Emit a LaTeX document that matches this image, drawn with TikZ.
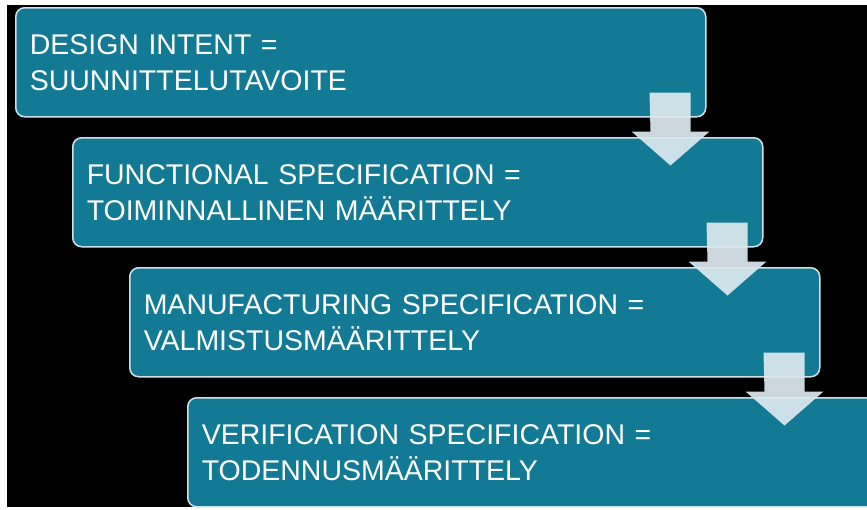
\documentclass[tikz,border=0pt]{standalone}
\usepackage{fontspec}
\setmainfont{Liberation Sans}
\usetikzlibrary{positioning,calc}

\definecolor{stepteal}{HTML}{137A95}
\definecolor{steprim}{HTML}{CFE2EA}
\definecolor{arrowgrey}{HTML}{DCE8EE}

\begin{document}
\begin{tikzpicture}[x=1pt,y=-1pt]
\tikzset{ >=latex,
  stepbox/.style={draw=steprim, line width=1.5pt, fill=stepteal, rounded corners=9pt,
    anchor=north west, text width=662pt, minimum height=109pt, align=left,
    inner xsep=14pt, text=white, font=\fontsize{28.5}{36}\selectfont},
  downarrow/.style={fill=arrowgrey, fill opacity=0.93},
}

\useasboundingbox (0,0) rectangle (867,509);
\clip (0,0) rectangle (867,509);

\fill [white] (0,0) rectangle (867,509);
\fill [black] (7,5) rectangle (867,507);

%\draw [lightgray, dashed](0,0) grid[step=50] (867,509);

\node [stepbox] (D) at (15,7)    {DESIGN INTENT =\\SUUNNITTELUTAVOITE};
\node [stepbox] (F) at (72,137)  {FUNCTIONAL SPECIFICATION =\\TOIMINNALLINEN MÄÄRITTELY};
\node [stepbox] (M) at (129,267) {MANUFACTURING SPECIFICATION =\\VALMISTUSMÄÄRITTELY};
\node [stepbox] (V) at (187,397) {VERIFICATION SPECIFICATION =\\TODENNUSMÄÄRITTELY};

\fill [downarrow] ($(D.south east)+(-57,-25)$) -- ++(41,0) -- ++(0,39) -- ++(19,0)
  -- ++(-39,34) -- ++(-39,-34) -- ++(19,0) -- cycle;
\fill [downarrow] ($(F.south east)+(-57,-25)$) -- ++(41,0) -- ++(0,39) -- ++(19,0)
  -- ++(-39,34) -- ++(-39,-34) -- ++(19,0) -- cycle;
\fill [downarrow] ($(M.south east)+(-57,-25)$) -- ++(41,0) -- ++(0,39) -- ++(19,0)
  -- ++(-39,34) -- ++(-39,-34) -- ++(19,0) -- cycle;
\end{tikzpicture}
\end{document}
